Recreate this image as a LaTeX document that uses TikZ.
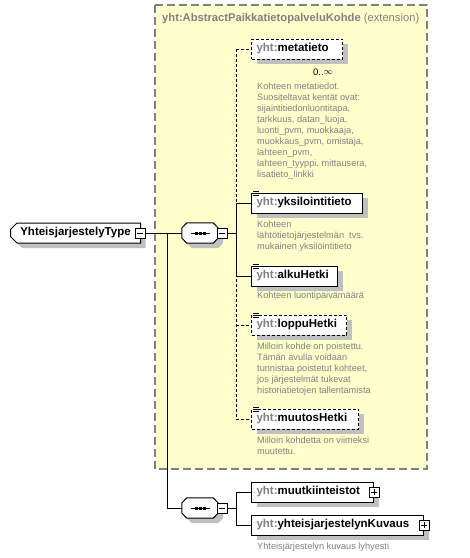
\documentclass[tikz,border=0pt]{standalone}
\usepackage{fontspec}
\setmainfont{Liberation Sans}
\usetikzlibrary{shapes.misc,shadows}

\definecolor{extyellow}{RGB}{255,255,204}
\definecolor{docgrey}{RGB}{128,128,128}
\definecolor{shadowgrey}{RGB}{192,192,192}

\newcommand{\ename}[1]{\textbf{\textcolor{docgrey}{yht:}#1}}
% octagon of a sequence compositor, drawn round a named node
\newcommand{\seqoct}[1]{%
  \draw[line width=1pt, fill=white, boxshadow] ([yshift=5pt]#1.west) -- ([xshift=5pt]#1.north west) -- ([xshift=-5pt]#1.north east)
    -- ([yshift=5pt]#1.east) -- ([yshift=-5pt]#1.east) -- ([xshift=-5pt]#1.south east) -- ([xshift=5pt]#1.south west)
    -- ([yshift=-5pt]#1.west) -- cycle;
  \draw[line width=1pt] ([xshift=-9pt]#1.center) -- ([xshift=10pt]#1.center);
  \foreach \dx in {-4,0,4}
    \fill ([xshift=\dx pt]#1.center) +(-1.5pt,-1.5pt) rectangle +(1.5pt,1.5pt);
}

\tikzset{
  boxshadow/.style={drop shadow={shadow xshift=5pt, shadow yshift=-5pt, fill=shadowgrey, opacity=1}},
  elem/.style={draw, fill=white, line width=1pt, minimum height=20pt, inner xsep=5pt, inner ysep=0pt,
    text width=#1, align=left, anchor=west, font=\fontsize{11.5}{13}\selectfont, boxshadow},
  optelem/.style={elem=#1, dash pattern=on 3pt off 2pt},
  doc/.style={anchor=north west, text=docgrey, inner sep=0pt, font=\fontsize{9.2}{11}\selectfont},
  seqbox/.style={rectangle, minimum width=36pt, minimum height=20pt, inner sep=0pt},
  minusbox/.style={draw, fill=white, line width=0.8pt, minimum size=10pt, inner sep=0pt,
    path picture={\draw ([xshift=2pt]path picture bounding box.west) -- ([xshift=-2pt]path picture bounding box.east);}},
  plusbox/.style={draw, fill=white, line width=0.8pt, minimum size=10pt, inner sep=0pt,
    path picture={\draw ([xshift=2pt]path picture bounding box.west) -- ([xshift=-2pt]path picture bounding box.east);
      \draw ([yshift=2pt]path picture bounding box.south) -- ([yshift=-2pt]path picture bounding box.north);}},
  conn/.style={line width=1pt},
  optconn/.style={conn, dash pattern=on 3pt off 2pt},
}

\begin{document}
\begin{tikzpicture}[x=1pt,y=-1pt]
	%%%%% START %%%%%
	\useasboundingbox (0,0) rectangle (470,558);
	
	\draw[fill=extyellow, draw=docgrey, line width=1.2pt, dash pattern=on 8pt off 4pt] (155,5) rectangle (427,469);
	\node[anchor=west, text=docgrey, inner sep=0pt, font=\fontsize{11.2}{13}\selectfont] (extTitle) at (162,19)
		{\textbf{yht:AbstractPaikkatietopalveluKohde} (extension)};
	
	\node[chamfered rectangle, chamfered rectangle corners={north west,south west}, chamfered rectangle xsep=3pt,
		draw, fill=white, line width=1pt, minimum width=130pt, minimum height=20pt, inner sep=0pt, anchor=west,
		font=\fontsize{11.5}{13}\selectfont\bfseries, boxshadow] (typeBox) at (10,233) {YhteisjarjestelyType\hspace{12pt}};
	\node[minusbox] (typeMinus) at ([xshift=-1pt]typeBox.east) {};
	
	\node[seqbox] (seqA) at (200,233) {};
	\seqoct{seqA}
	\node[minusbox] (seqAminus) at (222,233) {};
	\node[seqbox] (seqB) at (200,508) {};
	\seqoct{seqB}
	\node[minusbox] (seqBminus) at (222,508) {};
	
	\node[optelem=81pt] (meta) at (251,49) {\ename{metatieto}};
	\node[inner sep=0pt, font=\fontsize{9.5}{11}\selectfont] (metaMult) at (323,72) {0..\raisebox{0.3pt}{$\infty$}};
	\node[doc, align=left] (metaDoc) at (257,83) {Kohteen metatiedot.\\Suositeltavat kentät ovat:\\sijaintitiedonluontitapa,\\tarkkuus, datan\_luoja,\\luonti\_pvm, muokkaaja,\\muokkaus\_pvm, omistaja,\\lahteen\_pvm,\\lahteen\_tyyppi, mittausera,\\lisatieto\_linkki};
	
	\node[elem=101pt] (yksi) at (251,203) {\ename{yksilointitieto}};
	\node[doc, align=left] (yksiDoc) at (257,221) {Kohteen\\lähtötietojärjestelmän\ \ tvs.\\mukainen yksilöintitieto};
	
	\node[elem=76pt] (alku) at (251,276) {\ename{alkuHetki}};
	\node[doc] (alkuDoc) at (257,292) {Kohteen luontipäivämäärä};
	
	\node[optelem=85pt] (loppu) at (251,325) {\ename{loppuHetki}};
	\node[doc, align=left] (loppuDoc) at (257,343) {Milloin kohde on poistettu.\\Tämän avulla voidaan\\tunnistaa poistetut kohteet,\\jos järjestelmät tukevat\\historiatietojen tallentamista};
	
	\node[optelem=97pt] (muutos) at (251,419) {\ename{muutosHetki}};
	\node[doc, align=left] (muutosDoc) at (257,437) {Milloin kohdetta on viimeksi\\muutettu.};
	
	\node[elem=112pt] (muutk) at (251,492) {\ename{muutkiinteistot}};
	\node[plusbox] (muutkPlus) at (muutk.east) {};
	
	\node[elem=162pt] (kuvaus) at (251,525) {\ename{yhteisjarjestelynKuvaus}};
	\node[plusbox] (kuvausPlus) at (kuvaus.east) {};
	\node[doc] (kuvausDoc) at (257,543) {Yhteisjärjestelyn kuvaus lyhyesti};
	
	% doc icons
	\foreach \n in {yksi,alku,loppu,muutos}
		\foreach \k in {0,2,4}
			\draw[line width=0.8pt] ([xshift=2pt,yshift=1pt-\k pt]\n.north west) -- ++(6pt,0);
	
	% connectors
	\coordinate (trunk) at (167,233);
	\coordinate (busA) at (236,233);
	\coordinate (busB) at (236,508);
	
	\draw[conn] (typeMinus.east) -- (seqA.west);
	\draw[conn] (seqAminus.east) -- (busA);
	\draw[optconn] (busA |- meta.west) -- (busA |- muutos.west);
	\draw[conn] (busA |- yksi.west) -- (busA |- alku.west);
	\draw[optconn] (busA |- meta.west) -- (meta.west);
	\draw[conn] (busA |- yksi.west) -- (yksi.west);
	\draw[conn] (busA |- alku.west) -- (alku.west);
	\draw[optconn] (busA |- loppu.west) -- (loppu.west);
	\draw[optconn] (busA |- muutos.west) -- (muutos.west);
	
	\draw[conn] (trunk) |- (seqB.west);
	\draw[conn] (seqBminus.east) -- (busB);
	\draw[conn] (busB |- muutk.west) -- (busB |- kuvaus.west);
	\draw[conn] (busB |- muutk.west) -- (muutk.west);
	\draw[conn] (busB |- kuvaus.west) -- (kuvaus.west);
	
	%%%%% END %%%%%
\end{tikzpicture}
\end{document}
